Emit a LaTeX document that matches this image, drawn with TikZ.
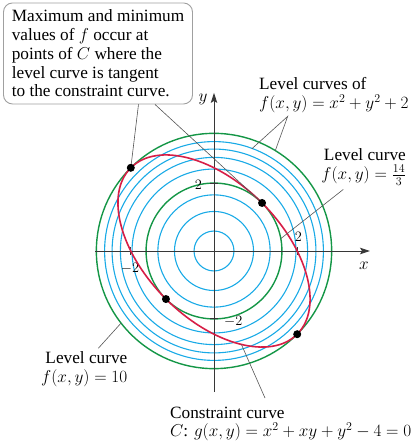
\documentclass[tikz,border=0pt]{standalone}
\usepackage{amsmath}
\usepackage{fontspec}
\setmainfont{Liberation Serif}
\usetikzlibrary{arrows.meta}
\definecolor{ink}{RGB}{55,55,55}
\definecolor{cLvl}{RGB}{25,170,230}
\definecolor{cTan}{RGB}{20,150,70}
\definecolor{cCon}{RGB}{215,30,70}
\definecolor{cPtr}{RGB}{85,85,85}
\definecolor{cBox}{RGB}{160,160,160}

\begin{document}
\begin{tikzpicture}[x=1bp,y=1bp,
  every node/.style={font=\fontsize{17.3}{18.8}\selectfont,inner sep=0pt},
  lbl/.style={align=left},
  callout/.style={draw=cBox,line width=0.9bp,rounded corners=9bp,align=left,
    minimum width=189bp,minimum height=101bp},
  ptr/.style={draw=cPtr,line width=0.6bp},
  ax/.style={draw=ink,line width=0.9bp,-{Stealth[length=10bp,width=6.5bp,inset=2bp]}},
  lvl/.style={draw=cLvl,line width=1.1bp},
  tng/.style={draw=cTan,line width=1.4bp},
  con/.style={draw=cCon,line width=1.6bp},
  tk/.style={font=\fontsize{15}{16}\selectfont}]
  \useasboundingbox (0,0) rectangle (412,442);
  % plot, centred on the origin
  \begin{scope}[shift={(214,191)},x=41.6bp,y=41.6bp]
    \foreach \r in {0.48,0.95,1.35,1.97,2.25,2.45,2.63}
      \draw[lvl] (0,0) circle (\r);
    \draw[tng] (0,0) circle (1.633) (0,0) circle (2.828);
    % axes
    \draw[ax] (-2.86,0) -- (3.75,0);
    \draw[ax] (0,-3.39) -- (0,3.80);
    \node (xl) at (3.606,-0.361) {$x$};
    \node (yl) at (-0.264,3.654) {$y$};
    \foreach \t in {-2,2}
      \draw[ink,line width=0.9bp] (\t,0) ++(0,-4bp) -- ++(0,8bp);
    \foreach \t in {-1.633,1.633}
      \draw[ink,line width=0.9bp] (0,\t) ++(-4bp,0) -- ++(8bp,0);
    \node[tk] (tx1) at (2.026,0.329) {$2$};
    \node[tk] (tx2) at (-2.019,-0.416) {$-2$};
    \node[tk] (ty1) at (-0.377,1.587) {$2$};
    \node[tk] (ty2) at (0.464,-1.70) {$-2$};
    % constraint curve
    \draw[con,rotate=-45] (0,0) ellipse (2.828 and 1.633);
    % tangent points and pointer ends
    \coordinate (p1) at (-2,2);
    \coordinate (p2) at (1.155,1.155);
    \coordinate (p3) at (2,-2);
    \coordinate (p4) at (-1.155,-1.155);
    \coordinate (a1) at (69.7:2.62);
    \coordinate (a2) at (58.6:2.828);
    \coordinate (a3) at (10.5:1.633);
    \coordinate (a4) at (217.8:2.828);
    \coordinate (a5) at (0.66,-2.25);
  \end{scope}
  % labels
  \node[callout] (note) at (98,388.5) {Maximum and minimum\\values of $f$ occur at\\points of $C$ where the\\level curve is tangent\\to the constraint curve.};
  \node[lbl,anchor=north west] (lvls) at (259,364.6) {Level curves of\\$f(x,y)=x^2+y^2+2$};
  \node[lbl,align=right,anchor=north east] (tan) at (406,293.6) {Level curve\\$f(x,y)=\frac{14}{3}$};
  \node[lbl,align=right,anchor=north east] (ten) at (127.5,90.3) {Level curve\\$f(x,y)=10$};
  \node[lbl,anchor=north west] (cons) at (170,35.6) {Constraint curve\\$C$: $g(x,y)=x^2+xy+y^2-4=0$};
  % pointers
  \draw[ptr] ([xshift=40.5bp]note.south) -- (p1);
  \draw[ptr] ([xshift=57bp]note.south) -- (p2);
  \draw[ptr] (a1) -- ([shift={(28.7bp,-3.4bp)}]lvls.south west) -- (a2);
  \draw[ptr] ([shift={(-62.7bp,-4bp)}]tan.south east) -- (a3);
  \draw[ptr] ([shift={(-29.2bp,3.4bp)}]ten.north east) -- (a4);
  \draw[ptr] ([shift={(95bp,8.4bp)}]cons.north west) -- (a5);
  \foreach \p in {p1,p2,p3,p4}
    \fill (\p) circle (4bp);
\end{tikzpicture}
\end{document}
